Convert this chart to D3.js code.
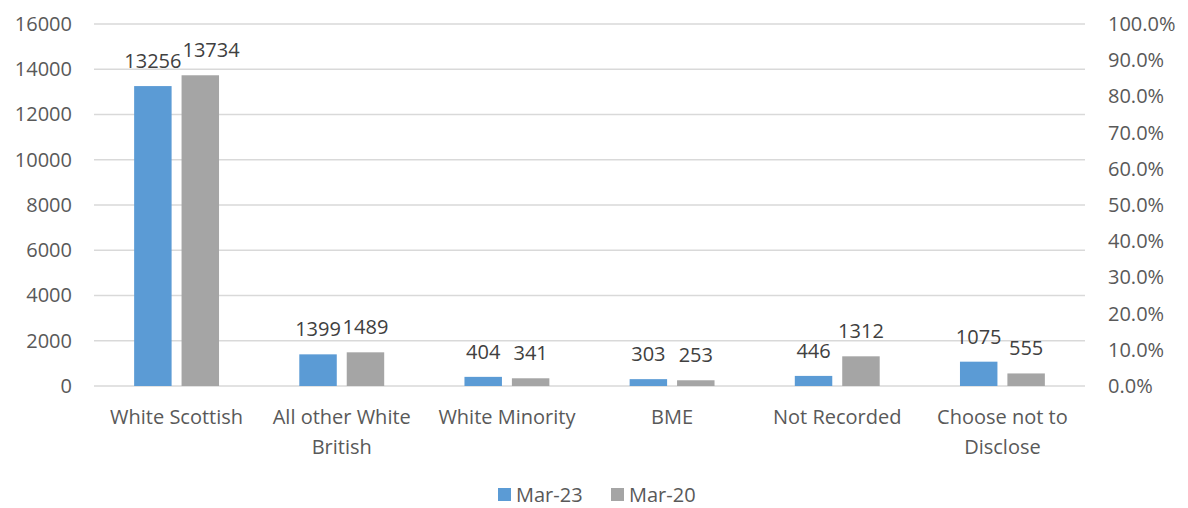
<!DOCTYPE html>
<html><head><meta charset="utf-8">
<script src="https://cdn.jsdelivr.net/npm/d3@7"></script>
<style>body{margin:0;background:#fff}svg{display:block}text{font-family:"Open Sans",Lato,sans-serif}</style>
</head><body>
<svg id="c" width="1188" height="508"></svg>
<script>
const categories = [["White Scottish"],["All other White","British"],["White Minority"],["BME"],["Not Recorded"],["Choose not to","Disclose"]];
const seriesNames = ["Mar-23","Mar-20"];
const mar23 = [13256,1399,404,303,446,1075];
const mar20 = [13734,1489,341,253,1312,555];
const leftTicks = [0,2000,4000,6000,8000,10000,12000,14000,16000];
const rightTicks = [0,0.1,0.2,0.3,0.4,0.5,0.6,0.7,0.8,0.9,1.0];
const colors = ["#5b9bd5","#a5a5a5"];

const svg = d3.select("#c");
const L=94,R=1085,T=24,B=386;
const FS=20;
const x = d3.scaleBand().domain(d3.range(categories.length)).range([L,R]);
const xs = d3.scaleBand().domain([0,1]).range([x.bandwidth()*0.243,x.bandwidth()*0.757]).paddingInner(0.21);
const y = d3.scaleLinear().domain([0,16000]).range([B,T]);
const y2 = d3.scaleLinear().domain([0,1]).range([B,T]);

svg.append("g").selectAll("line").data(leftTicks).join("line")
  .attr("x1",L).attr("x2",R).attr("y1",d=>y(d)).attr("y2",d=>y(d))
  .attr("stroke","#d9d9d9").attr("stroke-width",1.5);

const yAx = d3.axisLeft(y).tickValues(leftTicks).tickSize(0).tickPadding(0).tickFormat(d3.format("d"));
const gl = svg.append("g").attr("transform",`translate(${L-22},0)`).call(yAx);
gl.select(".domain").remove();
gl.selectAll("text").attr("font-size",FS).attr("fill","#595959").attr("font-family","'Open Sans',sans-serif");

const yAx2 = d3.axisRight(y2).tickValues(rightTicks).tickSize(0).tickPadding(0).tickFormat(d3.format(".1%"));
const gr = svg.append("g").attr("transform",`translate(${R+23},0)`).call(yAx2);
gr.select(".domain").remove();
gr.selectAll("text").attr("font-size",FS).attr("fill","#595959").attr("font-family","'Open Sans',sans-serif");

const series=[mar23,mar20];
const labelSel=[];
series.forEach((vals,si)=>{
  const g=svg.append("g");
  g.selectAll("rect").data(vals).join("rect")
    .attr("x",(d,i)=>x(i)+xs(si)).attr("width",xs.bandwidth())
    .attr("y",d=>y(d)).attr("height",d=>B-y(d)).attr("fill",colors[si]);
  labelSel.push(g.selectAll("text").data(vals).join("text")
    .attr("x",(d,i)=>x(i)+xs(si)+xs.bandwidth()/2).attr("y",d=>y(d)-18)
    .attr("text-anchor","middle").attr("font-size",FS).attr("fill","#404040").text(d=>d));
});
// nudge second-series labels right when they collide with first-series labels
const n0=labelSel[0].nodes(), n1=labelSel[1].nodes();
n1.forEach((nd,i)=>{
  const a=n0[i].getBBox(), b=nd.getBBox();
  const vOv = a.y < b.y+b.height-4 && b.y < a.y+a.height-4;
  const hOv = a.x+a.width - b.x;
  if(vOv && hOv>0){ nd.setAttribute("x", +nd.getAttribute("x")+hOv+1); }
});

const cg=svg.append("g");
categories.forEach((lines,i)=>{
  const t=cg.append("text").attr("x",x(i)+x.bandwidth()/2).attr("y",424).attr("text-anchor","middle")
    .attr("font-size",FS).attr("fill","#595959");
  lines.forEach((ln,j)=>t.append("tspan").attr("x",x(i)+x.bandwidth()/2).attr("dy",j?30:0).text(ln));
});

const lg=svg.append("g");
const lx=[498,611];
seriesNames.forEach((n,i)=>{
  lg.append("rect").attr("x",lx[i]).attr("y",488).attr("width",13).attr("height",13).attr("fill",colors[i]);
  lg.append("text").attr("x",lx[i]+18).attr("y",502).attr("font-size",FS).attr("fill","#595959").text(n);
});
</script>
</body></html>
